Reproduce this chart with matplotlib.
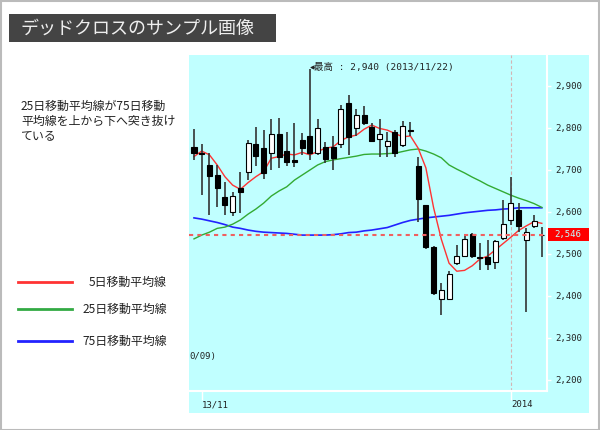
import matplotlib.pyplot as plt
from matplotlib.patches import Rectangle
from matplotlib.lines import Line2D

# daily candles 2013/10/31 - 2014/01/10
opens = [2754, 2741, 2712, 2688, 2636, 2601, 2658, 2696, 2762, 2752,
         2740, 2786, 2746, 2724, 2771, 2781, 2740, 2755, 2755, 2762,
         2860, 2799, 2831, 2803, 2774, 2757, 2791, 2760, 2795, 2710,
         2617, 2517, 2394, 2392, 2479, 2495, 2548, 2493, 2492, 2482,
         2537, 2581, 2605, 2533, 2567, 2546]
highs = [2797, 2763, 2740, 2712, 2672, 2648, 2696, 2771, 2802, 2795,
         2821, 2823, 2791, 2811, 2787, 2940, 2821, 2767, 2781, 2855,
         2879, 2845, 2852, 2813, 2821, 2791, 2795, 2817, 2815, 2732,
         2617, 2519, 2430, 2460, 2521, 2545, 2549, 2525, 2533, 2533,
         2629, 2683, 2621, 2561, 2593, 2564]
lows = [2724, 2640, 2593, 2613, 2593, 2590, 2597, 2676, 2710, 2678,
        2700, 2704, 2710, 2708, 2736, 2724, 2736, 2716, 2700, 2752,
        2736, 2781, 2807, 2767, 2730, 2730, 2732, 2755, 2781, 2575,
        2511, 2402, 2355, 2392, 2474, 2492, 2490, 2462, 2462, 2464,
        2533, 2569, 2553, 2363, 2561, 2494]
closes = [2741, 2738, 2686, 2656, 2617, 2638, 2648, 2764, 2733, 2694,
          2785, 2732, 2720, 2720, 2752, 2740, 2801, 2726, 2728, 2845,
          2779, 2831, 2813, 2770, 2786, 2769, 2741, 2805, 2793, 2630,
          2517, 2408, 2414, 2452, 2495, 2535, 2495, 2491, 2476, 2532,
          2571, 2621, 2567, 2552, 2579, 2546]

ma5 = [2732, 2745, 2736, 2712, 2684, 2664, 2654, 2670, 2684, 2696,
       2728, 2732, 2738, 2736, 2742, 2736, 2744, 2752, 2755, 2770,
       2779, 2783, 2797, 2807, 2799, 2795, 2787, 2779, 2781, 2752,
       2705, 2610, 2535, 2478, 2459, 2461, 2472, 2488, 2495, 2510,
       2525, 2540, 2556, 2567, 2577, 2573]
ma25 = [2536, 2545, 2552, 2561, 2564, 2571, 2581, 2595, 2607, 2621,
        2638, 2650, 2660, 2676, 2688, 2700, 2712, 2720, 2724, 2727,
        2730, 2733, 2737, 2738, 2738, 2739, 2740, 2744, 2748, 2750,
        2745, 2738, 2729, 2712, 2702, 2693, 2683, 2674, 2664, 2656,
        2648, 2640, 2633, 2627, 2620, 2611]
ma75 = [2586, 2583, 2579, 2575, 2570, 2564, 2561, 2557, 2554, 2552,
        2551, 2550, 2549, 2547, 2545, 2545, 2545, 2545, 2546, 2548,
        2551, 2552, 2555, 2557, 2560, 2563, 2569, 2575, 2580, 2583,
        2586, 2588, 2590, 2592, 2595, 2598, 2600, 2602, 2604, 2605,
        2607, 2608, 2610, 2610, 2610, 2610]

last_price = 2546
price_ticks = [2200, 2300, 2400, 2500, 2600, 2700, 2800, 2900]
date_ticks = [1, 41]
date_labels = ['13/11', '2014']

W, H = 600, 430
CYAN = '#c0ffff'
JP = ['Noto Sans CJK JP', 'DejaVu Sans']
MONO = ['DejaVu Sans Mono', 'Noto Sans CJK JP']


def fx(x):
    return x / W


def fy(y):
    return 1 - y / H


fig = plt.figure(figsize=(6, 4.3), dpi=100)

# frame + chart background
fig.patches.append(Rectangle((0.001, 0.001), 0.997, 0.997, transform=fig.transFigure,
                             fill=False, edgecolor='#bbbbbb', lw=1.5, zorder=-1))
fig.patches.append(Rectangle((fx(189), fy(413)), 400 / W, 358 / H, transform=fig.transFigure,
                             facecolor=CYAN, edgecolor='none', zorder=-1))

# title box
fig.patches.append(Rectangle((fx(9), fy(42)), 267 / W, 28 / H, transform=fig.transFigure,
                             facecolor='#444444', edgecolor='none'))
fig.text(fx(20), fy(28.5), 'デッドクロスのサンプル画像', color='#eeeeee', fontsize=13,
         family=JP, ha='left', va='center')

# explanation
for k, line in enumerate(['25日移動平均線が75日移動', '平均線を上から下へ突き抜け', 'ている']):
    fig.text(fx(21), fy(106 + 15 * k), line, fontsize=8.6, family=JP, color='#222222',
             ha='left', va='center')

# legend
for yy, col, lab in [(282, '#ff3333', '5日移動平均線'), (309, '#33aa44', '25日移動平均線'),
                     (341, '#2222ff', '75日移動平均線')]:
    fig.add_artist(Line2D([fx(18), fx(72)], [fy(yy), fy(yy)], color=col, lw=2,
                          transform=fig.transFigure))
    fig.text(fx(167), fy(yy), lab, fontsize=8.6, family=JP, color='#222222', ha='right', va='center')

# price chart
ax = fig.add_axes([fx(189), fy(391), 358 / W, 336 / H])
ax.set_facecolor(CYAN)
ax.set_xlim(-0.647, 45.67)
ax.set_ylim(2173.8, 2973.8)

xs = list(range(len(closes)))
ax.axvline(41, color='#d4b4b4', lw=0.8, ls=(0, (3, 2)), zorder=1)
ax.plot(xs, ma75, color='#2222ff', lw=1.2, zorder=2)
ax.plot(xs, ma25, color='#33aa33', lw=1, zorder=2)
ax.plot(xs, ma5, color='#ff3333', lw=1, zorder=2)

for i in xs:
    o, h, l, c = opens[i], highs[i], lows[i], closes[i]
    ax.vlines(i, l, h, color='#333333', lw=1.2, zorder=3)
    ax.bar(i, abs(c - o), bottom=min(o, c), width=0.65,
           color='white' if c > o else 'black', edgecolor='black', lw=0.8, zorder=4)

ax.axhline(last_price, color='#f06060', lw=1.5, ls=(0, (2, 2)), zorder=5)

# high annotation with a small arrow pointing at the wick top
ax.annotate('', xy=(15, 2944), xytext=(15.55, 2944),
            arrowprops=dict(arrowstyle='-|>', lw=0.8, color='#222222',
                            mutation_scale=5, shrinkA=0, shrinkB=0))
ax.text(15.55, 2944, '最高 : 2,940 (2013/11/22)', fontsize=6.8, family=MONO,
        ha='left', va='center', color='#222222')

for s in ['top', 'left']:
    ax.spines[s].set_visible(False)
for s in ['right', 'bottom']:
    ax.spines[s].set_color('white')
    ax.spines[s].set_linewidth(1.5)

ax.yaxis.tick_right()
ax.set_yticks(price_ticks)
ax.set_yticklabels([f'{p:,}' for p in price_ticks], family=MONO)
ax.tick_params(axis='y', colors='white', labelcolor='#222222', length=3, width=1,
               labelsize=6.5, pad=3)
ax.set_xticks(date_ticks)
ax.set_xticklabels(date_labels, family=MONO, ha='left')
ax.tick_params(axis='x', colors='white', labelcolor='#222222', length=6.5, width=1,
               labelsize=6.5, pad=0)

# current price tag
fig.patches.append(Rectangle((fx(548), fy(241)), 41 / W, 13 / H, transform=fig.transFigure,
                             facecolor='#ff0000', edgecolor='none'))
fig.text(fx(554), fy(234.5), f'{last_price:,}', fontsize=6.5, family=MONO, color='#c0ffff',
         ha='left', va='center')

# tail of the low annotation, cut off at the left edge
fig.text(fx(189), fy(356), '0/09)', fontsize=6.5, family=MONO, color='#222222',
         ha='left', va='center')

fig.savefig('out.png', dpi=100)
